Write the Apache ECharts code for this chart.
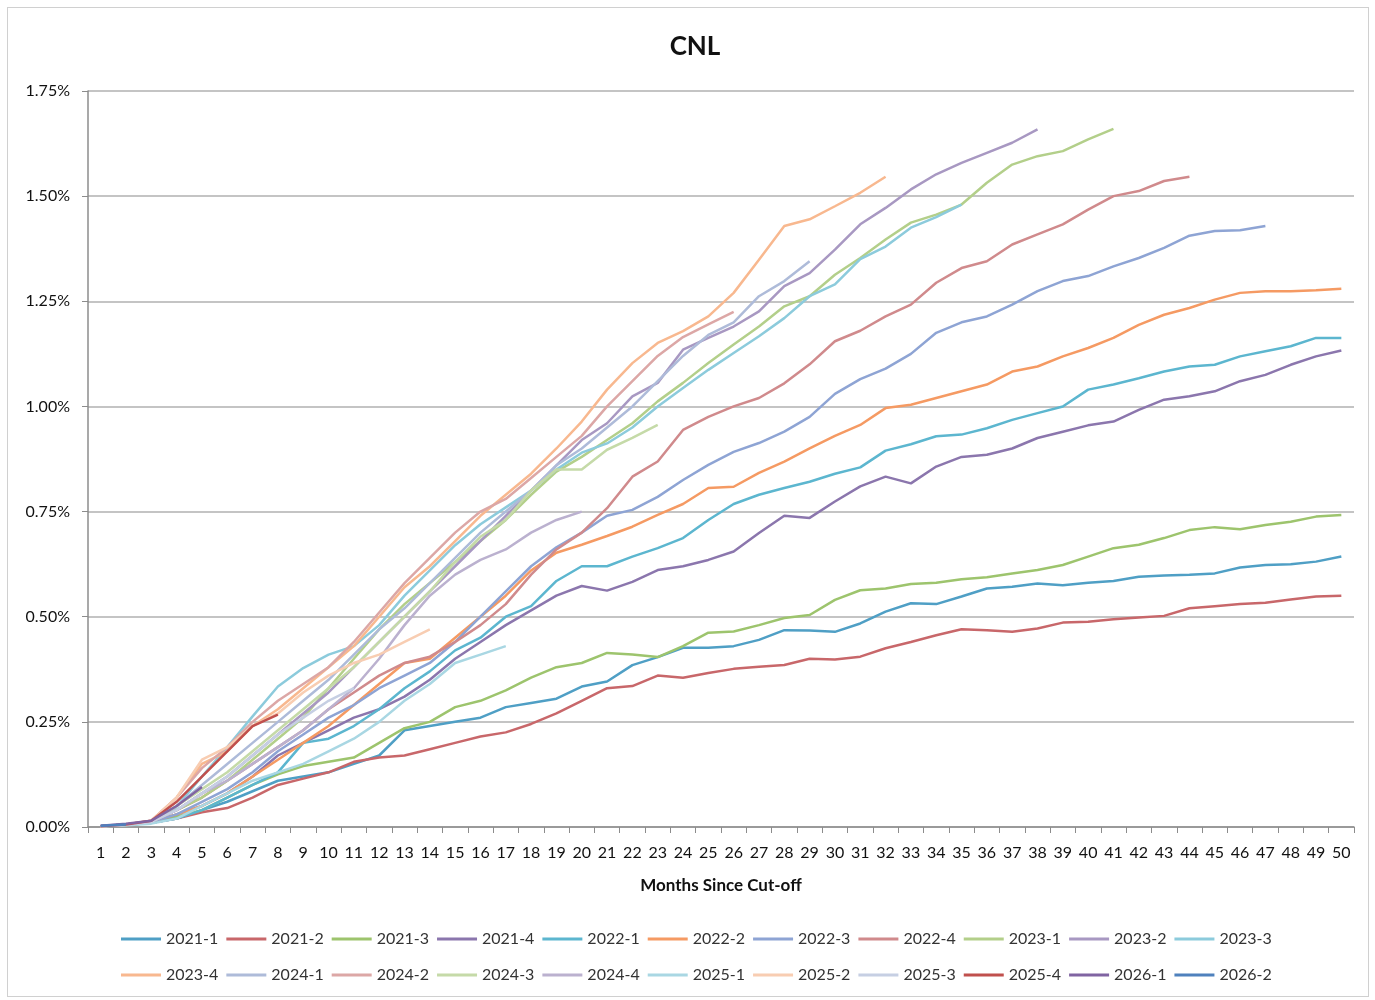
<!DOCTYPE html>
<html>
<head>
<meta charset="utf-8">
<script src="https://cdn.jsdelivr.net/npm/echarts@6/dist/echarts.min.js"></script>
<style>
html,body{margin:0;padding:0;background:#fff;}
#wrap{position:absolute;left:7px;top:7px;width:1362px;height:990px;border:1px solid #d0d0d0;box-sizing:border-box;}
#chart{position:absolute;left:0;top:0;width:1375px;height:1000px;}
</style>
</head>
<body>
<div id="wrap"></div>
<div id="chart"></div>
<script>
const months = ['1','2','3','4','5','6','7','8','9','10','11','12','13','14','15','16','17','18','19','20','21','22','23','24','25','26','27','28','29','30','31','32','33','34','35','36','37','38','39','40','41','42','43','44','45','46','47','48','49','50'];
const yTicks = [0, 0.25, 0.5, 0.75, 1.0, 1.25, 1.5, 1.75];

const names = ['2021-1','2021-2','2021-3','2021-4','2022-1','2022-2','2022-3','2022-4','2023-1','2023-2','2023-3','2023-4','2024-1','2024-2','2024-3','2024-4','2025-1','2025-2','2025-3','2025-4','2026-1','2026-2'];

const s2021_1 = [0.002,0.005,0.01,0.02,0.04,0.06,0.085,0.11,0.12,0.13,0.15,0.17,0.23,0.24,0.25,0.26,0.285,0.295,0.305,0.334,0.346,0.385,0.404,0.426,0.426,0.43,0.445,0.468,0.467,0.464,0.484,0.512,0.532,0.53,0.548,0.567,0.571,0.579,0.575,0.581,0.585,0.595,0.598,0.60,0.603,0.617,0.623,0.625,0.631,0.643];
const s2021_2 = [0.002,0.005,0.01,0.02,0.035,0.045,0.07,0.10,0.115,0.13,0.155,0.165,0.17,0.185,0.20,0.215,0.225,0.245,0.27,0.30,0.33,0.335,0.36,0.355,0.366,0.376,0.381,0.385,0.40,0.398,0.405,0.425,0.44,0.456,0.47,0.468,0.464,0.472,0.486,0.488,0.494,0.498,0.502,0.52,0.525,0.53,0.533,0.541,0.548,0.55];
const s2021_3 = [0.002,0.005,0.01,0.025,0.04,0.07,0.10,0.125,0.145,0.155,0.165,0.20,0.235,0.25,0.285,0.30,0.325,0.355,0.38,0.39,0.414,0.41,0.404,0.43,0.462,0.465,0.48,0.497,0.504,0.54,0.563,0.567,0.578,0.581,0.589,0.594,0.603,0.611,0.623,0.643,0.663,0.671,0.687,0.706,0.713,0.708,0.718,0.726,0.738,0.742];
const s2021_4 = [0.002,0.006,0.012,0.03,0.05,0.08,0.12,0.17,0.20,0.23,0.26,0.28,0.31,0.35,0.40,0.44,0.48,0.515,0.55,0.573,0.562,0.583,0.611,0.62,0.635,0.655,0.699,0.74,0.735,0.774,0.81,0.833,0.817,0.857,0.88,0.885,0.90,0.925,0.94,0.955,0.964,0.992,1.016,1.024,1.036,1.06,1.075,1.099,1.119,1.133];
const s2022_1 = [0.002,0.005,0.01,0.02,0.04,0.07,0.10,0.13,0.20,0.21,0.24,0.28,0.33,0.37,0.42,0.45,0.50,0.525,0.585,0.62,0.62,0.643,0.663,0.687,0.73,0.768,0.79,0.806,0.821,0.84,0.855,0.895,0.91,0.929,0.933,0.948,0.968,0.984,1.0,1.04,1.052,1.067,1.083,1.095,1.099,1.119,1.131,1.143,1.163,1.163];
const s2022_2 = [0.002,0.005,0.012,0.03,0.05,0.08,0.12,0.16,0.20,0.24,0.29,0.34,0.39,0.40,0.45,0.50,0.55,0.61,0.652,0.671,0.692,0.714,0.742,0.768,0.806,0.809,0.842,0.869,0.90,0.93,0.956,0.996,1.004,1.02,1.036,1.052,1.083,1.095,1.119,1.139,1.163,1.194,1.218,1.234,1.254,1.27,1.274,1.274,1.276,1.28];
const s2022_3 = [0.002,0.006,0.012,0.03,0.06,0.09,0.13,0.18,0.22,0.26,0.29,0.33,0.36,0.39,0.44,0.50,0.56,0.62,0.665,0.70,0.74,0.754,0.785,0.825,0.861,0.892,0.913,0.94,0.975,1.03,1.065,1.09,1.125,1.175,1.20,1.214,1.242,1.274,1.298,1.31,1.333,1.353,1.377,1.406,1.417,1.419,1.429];
const s2022_4 = [0.002,0.006,0.012,0.04,0.07,0.11,0.15,0.19,0.23,0.28,0.32,0.36,0.39,0.405,0.44,0.48,0.53,0.60,0.66,0.70,0.758,0.833,0.869,0.944,0.975,1.0,1.02,1.055,1.10,1.155,1.18,1.214,1.242,1.294,1.329,1.345,1.385,1.409,1.433,1.468,1.50,1.512,1.536,1.546];
const s2023_1 = [0.002,0.006,0.012,0.04,0.07,0.11,0.16,0.21,0.26,0.33,0.40,0.47,0.53,0.58,0.63,0.68,0.73,0.79,0.845,0.88,0.92,0.96,1.012,1.056,1.103,1.147,1.19,1.238,1.262,1.313,1.353,1.397,1.437,1.456,1.48,1.532,1.575,1.595,1.607,1.635,1.66];
const s2023_2 = [0.002,0.006,0.012,0.04,0.08,0.12,0.17,0.22,0.27,0.32,0.38,0.44,0.50,0.56,0.62,0.68,0.74,0.80,0.86,0.92,0.96,1.024,1.056,1.135,1.163,1.19,1.226,1.286,1.317,1.373,1.433,1.472,1.516,1.552,1.579,1.603,1.627,1.659];
const s2023_3 = [0.002,0.006,0.012,0.048,0.12,0.19,0.263,0.334,0.378,0.41,0.43,0.48,0.55,0.61,0.67,0.72,0.76,0.80,0.85,0.89,0.912,0.95,1.0,1.044,1.087,1.127,1.167,1.21,1.262,1.29,1.35,1.38,1.425,1.45,1.48];
const s2023_4 = [0.002,0.006,0.015,0.07,0.15,0.18,0.24,0.28,0.33,0.38,0.43,0.50,0.57,0.62,0.68,0.74,0.79,0.84,0.90,0.964,1.04,1.103,1.151,1.179,1.214,1.27,1.349,1.429,1.445,1.476,1.508,1.546];
const s2024_1 = [0.002,0.006,0.012,0.05,0.10,0.15,0.20,0.25,0.30,0.35,0.41,0.47,0.52,0.58,0.64,0.70,0.75,0.80,0.86,0.90,0.95,1.0,1.06,1.12,1.17,1.20,1.262,1.298,1.345];
const s2024_2 = [0.002,0.006,0.015,0.07,0.14,0.19,0.25,0.30,0.34,0.38,0.44,0.51,0.58,0.64,0.70,0.75,0.78,0.83,0.88,0.93,1.0,1.06,1.12,1.165,1.195,1.225];
const s2024_3 = [0.002,0.006,0.012,0.05,0.09,0.13,0.18,0.23,0.28,0.33,0.38,0.44,0.50,0.56,0.63,0.69,0.73,0.80,0.85,0.85,0.897,0.925,0.956];
const s2024_4 = [0.002,0.006,0.012,0.04,0.08,0.11,0.15,0.19,0.23,0.28,0.33,0.40,0.48,0.55,0.60,0.635,0.66,0.70,0.73,0.75];
const s2025_1 = [0.002,0.004,0.008,0.02,0.05,0.08,0.11,0.13,0.15,0.18,0.21,0.25,0.30,0.34,0.39,0.41,0.43];
const s2025_2 = [0.002,0.006,0.015,0.07,0.16,0.19,0.24,0.27,0.32,0.36,0.39,0.41,0.44,0.47];
const s2025_3 = [0.002,0.005,0.012,0.04,0.08,0.12,0.17,0.22,0.26,0.30,0.33];
const s2025_4 = [0.002,0.006,0.015,0.06,0.12,0.18,0.24,0.267];
const s2026_1 = [0.003,0.008,0.015,0.05,0.095];
const s2026_2 = [0.003,0.006];

const seriesData = [s2021_1,s2021_2,s2021_3,s2021_4,s2022_1,s2022_2,s2022_3,s2022_4,s2023_1,s2023_2,s2023_3,s2023_4,s2024_1,s2024_2,s2024_3,s2024_4,s2025_1,s2025_2,s2025_3,s2025_4,s2026_1,s2026_2];

const colors = ['#4f9fc5','#c8676a','#9dc46d','#8b76ad','#5cb6cf','#f59a63','#8ea4d4','#d08a8c','#b3cf8a','#a898c2','#8ccbdc','#f8b88f','#aebbd9','#dca7a6','#c5daa8','#bbb1cf','#a9d7e3','#f8cdb2','#c6cfe3','#c0504d','#8064a2','#4f81bd'];

const FONT = 'Lato, "Open Sans", sans-serif';

const chart = echarts.init(document.getElementById('chart'));
const series = names.map((n, i) => ({
  name: n,
  type: 'line',
  data: seriesData[i],
  symbol: 'none',
  lineStyle: { width: 2.5, color: colors[i] },
  itemStyle: { color: colors[i] },
  emphasis: { disabled: true },
  animation: false
}));

const legendCommon = {
  icon: 'rect',
  itemWidth: 40,
  itemHeight: 3,
  itemGap: 8,
  textStyle: { fontFamily: FONT, fontSize: 16, color: '#333' },
  selectedMode: false
};

chart.setOption({
  animation: false,
  backgroundColor: 'transparent',
  title: {
    text: 'CNL',
    left: 690,
    textAlign: 'center',
    top: 29,
    textStyle: { fontFamily: FONT, fontSize: 26, fontWeight: 'bold', color: '#111' }
  },
  color: colors,
  legend: [
    Object.assign({}, legendCommon, { top: 926, left: 116, data: names.slice(0, 11) }),
    Object.assign({}, legendCommon, { top: 962, left: 116, data: names.slice(11) })
  ],
  grid: { left: 88, right: 21, top: 91, bottom: 173, containLabel: false },
  xAxis: {
    type: 'category',
    data: months,
    boundaryGap: true,
    name: 'Months Since Cut-off',
    nameLocation: 'middle',
    nameGap: 50,
    nameTextStyle: { fontFamily: FONT, fontSize: 17, fontWeight: 'bold', color: '#111' },
    axisLine: { lineStyle: { color: '#8c8c8c', width: 1.5 } },
    axisTick: { show: true, alignWithLabel: false, length: 6, lineStyle: { color: '#8c8c8c' } },
    axisLabel: { interval: 0, fontFamily: FONT, fontSize: 16, color: '#111', margin: 18 },
    splitLine: { show: false }
  },
  yAxis: {
    type: 'value',
    min: yTicks[0],
    max: yTicks[yTicks.length - 1],
    interval: 0.25,
    axisLine: { show: true, lineStyle: { color: '#8c8c8c', width: 1.5 } },
    axisTick: { show: true, inside: false, length: 6, lineStyle: { color: '#8c8c8c' } },
    axisLabel: { fontFamily: FONT, fontSize: 16, color: '#111', margin: 18,
      formatter: v => v.toFixed(2) + '%' },
    splitLine: { show: true, lineStyle: { color: '#c4c4c4', width: 2 } }
  },
  series: series
});
</script>
</body>
</html>
